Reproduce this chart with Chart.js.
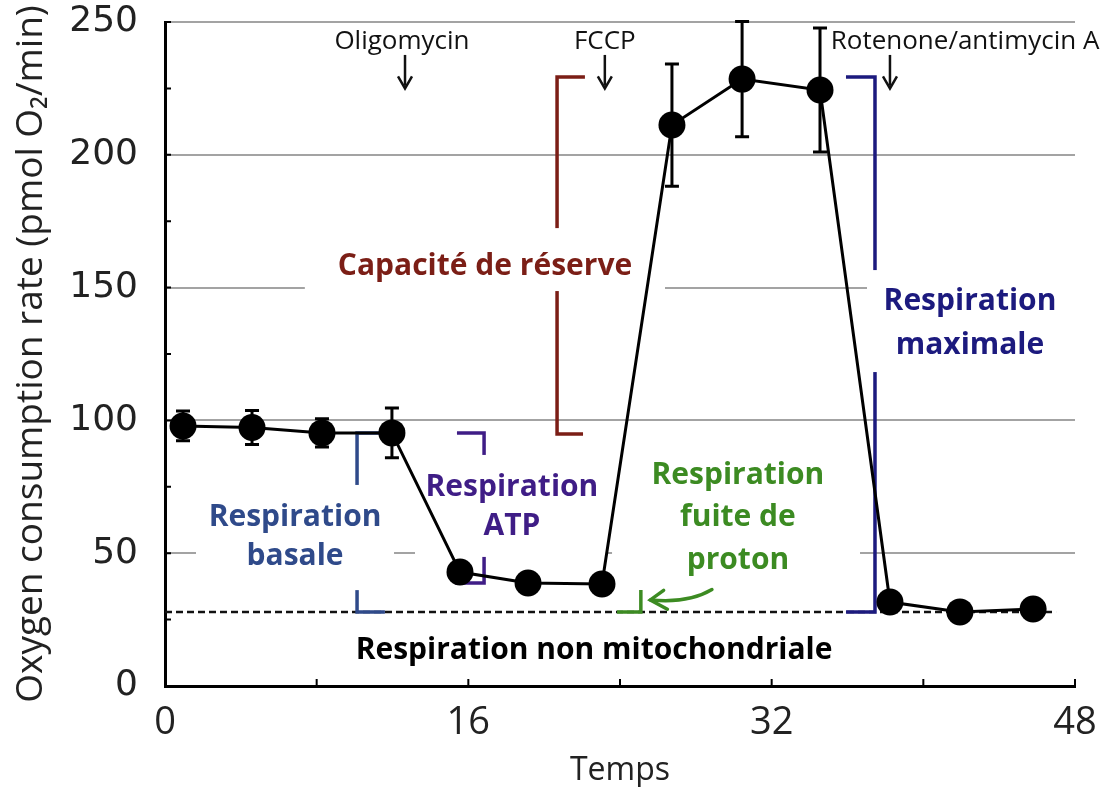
<!DOCTYPE html>
<html><head><meta charset="utf-8">
<script src="https://cdn.jsdelivr.net/npm/chart.js@4.4.1/dist/chart.umd.min.js"></script>
<style>html,body{margin:0;padding:0;background:#fff;}#wrap{width:1107px;height:787px;}</style>
</head><body><div id="wrap"><canvas id="c" width="1107" height="787"></canvas></div>
<script>
// ---- data ----
const times = [0.95, 4.59, 8.28, 11.97, 15.56, 19.15, 23.05, 26.74, 30.44, 34.55, 38.24, 41.93, 45.79];
const ocr   = [97.9, 97.3, 95.3, 95.3, 42.9, 38.8, 38.4, 211.2, 228.5, 224.4, 31.6, 27.9, 29.0];
const sem   = [5.6, 6.4, 5.3, 9.4, 0, 0, 0, 23.0, 21.7, 23.3, 0, 0, 0];
const yTickStep = 50;
const yMinorTicks = [25, 50, 75, 100, 125, 150, 175, 200, 225, 250];
const xTickLabels = [0, 16, 32, 48];
const xMinorTicks = [8, 16, 24, 32, 40, 48];
const nonMitoLevel = 27.9;
const drugNames = ['Oligomycin', 'FCCP', 'Rotenone/antimycin A'];
const drugTimes = [12.66, 23.2, 38.24];
const drugTextCenters = [12.5, 23.2, 42.2];

// ---- annotation layout (data units) ----
const boxes = [
  [7.38, 26.37, 148.7, 172.4],   // capacite
  [1.64, 12.08, 36.1, 75.7],     // basale
  [13.19, 23.3, 48.6, 87.0],     // ATP
  [23.58, 36.66, 36.1, 87.0],    // fuite
  [37.03, 48.0, 118.2, 156.6]    // maximale
];
const brackets = [
  {c:'#7b1e16', p:[[22.15,229.3],[20.68,229.3],[20.68,94.9],[22.05,94.9]]},
  {c:'#2f4a8a', p:[[11.97,95.3],[10.13,95.3],[10.13,27.9],[11.6,27.9]]},
  {c:'#3f1d86', p:[[15.4,95.3],[16.83,95.3],[16.83,38.8],[15.3,38.8]]},
  {c:'#3c8b22', p:[[25.1,36.1],[25.1,27.9],[23.84,27.9]]},
  {c:'#1c1a7e', p:[[35.92,229.3],[37.45,229.3],[37.45,27.9],[35.92,27.9]]}
];
const labels = [
  {c:'#7b1e16', x:16.88, y:[158.1], t:['Capacité de réserve']},
  {c:'#2f4a8a', x:6.86, y:[63.6,48.6], t:['Respiration','basale']},
  {c:'#3f1d86', x:18.3, y:[74.9,59.9], t:['Respiration','ATP']},
  {c:'#3c8b22', x:30.22, y:[79.1,63.3,47.1], t:['Respiration','fuite de','proton']},
  {c:'#1c1a7e', x:42.46, y:[144.6,128.4], t:['Respiration','maximale']},
  {c:'#000000', x:22.63, y:[13.55], t:['Respiration non mitochondriale']}
];

const annot = {
  id:'annot',
  beforeDatasetsDraw(chart){
    const ctx = chart.ctx, xs = chart.scales.x, ys = chart.scales.y;
    const X = v => xs.getPixelForValue(v), Y = v => ys.getPixelForValue(v);
    ctx.save();
    ctx.fillStyle = '#fff';
    boxes.forEach(b => { ctx.fillRect(X(b[0]), Y(b[3]), X(b[1])-X(b[0]), Y(b[2])-Y(b[3])); });
    // dashed non-mito line
    ctx.strokeStyle = '#111'; ctx.lineWidth = 2.5; ctx.setLineDash([7,4]);
    ctx.beginPath(); ctx.moveTo(X(0), Y(nonMitoLevel)); ctx.lineTo(X(47), Y(nonMitoLevel)); ctx.stroke();
    ctx.setLineDash([]);
    // brackets
    ctx.lineWidth = 3.5; ctx.lineJoin = 'miter'; ctx.lineCap = 'butt';
    brackets.forEach(b => {
      ctx.strokeStyle = b.c; ctx.beginPath();
      b.p.forEach((pt,i) => { const px=X(pt[0]), py=Y(pt[1]); i?ctx.lineTo(px,py):ctx.moveTo(px,py); });
      ctx.stroke();
    });
    // re-cover bracket gaps with label boxes
    ctx.fillStyle = '#fff';
    boxes.forEach((b,i) => { if(i!==3) ctx.fillRect(X(b[0]), Y(b[3]), X(b[1])-X(b[0]), Y(b[2])-Y(b[3])); });
    // labels
    ctx.textAlign = 'center'; ctx.textBaseline = 'middle';
    ctx.font = 'bold 30px "Open Sans"';
    labels.forEach(l => { ctx.fillStyle = l.c; l.t.forEach((t,i) => ctx.fillText(t, X(l.x), Y(l.y[i]))); });
    // green curved arrow
    ctx.strokeStyle = '#3c8b22'; ctx.lineWidth = 3.5; ctx.lineCap='round';
    ctx.beginPath(); ctx.moveTo(X(28.85), Y(36.3));
    ctx.quadraticCurveTo(X(27.6), Y(31.0), X(25.6), Y(32.4)); ctx.stroke();
    ctx.beginPath(); ctx.moveTo(X(26.3), Y(36.0)); ctx.lineTo(X(25.6), Y(32.4)); ctx.lineTo(X(26.5), Y(28.9)); ctx.stroke();
    // drug labels + arrows
    ctx.fillStyle = '#111'; ctx.strokeStyle = '#111'; ctx.lineWidth = 2.5; ctx.lineCap='butt';
    ctx.font = '26px "Open Sans"';
    drugNames.forEach((n,i) => {
      ctx.fillText(n, X(drugTextCenters[i]), Y(242.6));
      const ax = X(drugTimes[i]);
      ctx.beginPath(); ctx.moveTo(ax, Y(237.6)); ctx.lineTo(ax, Y(226)); ctx.stroke();
      const ty = Y(225.0);
      ctx.beginPath(); ctx.moveTo(ax-7, ty-12); ctx.lineTo(ax, ty); ctx.lineTo(ax+7, ty-12); ctx.stroke();
    });
    ctx.restore();
  },
  afterDatasetsDraw(chart){
    const ctx = chart.ctx, xs = chart.scales.x, ys = chart.scales.y;
    const X = v => xs.getPixelForValue(v), Y = v => ys.getPixelForValue(v);
    ctx.save();
    ctx.strokeStyle = '#000'; ctx.lineWidth = 3;
    sem.forEach((e,i) => {
      if(!e) return;
      const px = X(times[i]), t = Y(ocr[i]+e), b = Y(ocr[i]-e);
      ctx.beginPath();
      ctx.moveTo(px,t); ctx.lineTo(px,b);
      ctx.moveTo(px-7,t); ctx.lineTo(px+7,t);
      ctx.moveTo(px-7,b); ctx.lineTo(px+7,b);
      ctx.stroke();
    });
    // inward minor ticks
    ctx.lineWidth = 2;
    ctx.beginPath();
    yMinorTicks.forEach(v => { const py=Y(v); ctx.moveTo(xs.left, py); ctx.lineTo(xs.left+6, py); });
    xMinorTicks.forEach(v => { const px=X(v); ctx.moveTo(px, ys.bottom); ctx.lineTo(px, ys.bottom-7); });
    ctx.stroke();
    ctx.restore();
  }
};

new Chart(document.getElementById('c'), {
  type:'line',
  data:{ datasets:[{
    data: times.map((t,i)=>({x:t, y:ocr[i]})),
    borderColor:'#000', backgroundColor:'#000', borderWidth:3,
    pointRadius:13.5, pointHoverRadius:13.5, pointBorderWidth:0, tension:0, clip:false
  }]},
  options:{
    responsive:false, animation:false,
    layout:{padding:{top:22, right:32, left:0, bottom:0}},
    plugins:{legend:{display:false}, tooltip:{enabled:false}},
    scales:{
      x:{type:'linear', min:0, max:48,
        afterFit(s){ s.height = 101; s.paddingLeft = 0; s.paddingRight = 0; },
        afterBuildTicks(s){ s.ticks = xTickLabels.map(v=>({value:v})); },
        grid:{display:false, drawTicks:false},
        border:{display:true, color:'#000', width:3},
        ticks:{font:{family:'"Open Sans"', size:38}, color:'#222', padding:14, maxRotation:0},
        title:{display:true, text:'Temps', font:{family:'"Open Sans"', size:32, lineHeight:1}, color:'#222', padding:{top:0,bottom:0}}
      },
      y:{min:0, max:250,
        afterFit(s){ s.width = 165; s.paddingTop = 0; s.paddingBottom = 0; },
        grid:{color:c => c.tick && c.tick.value===0 ? 'rgba(0,0,0,0)' : '#a3a3a3', lineWidth:2, drawTicks:false},
        border:{display:true, color:'#000', width:3},
        ticks:{stepSize:yTickStep, font:{family:'"DejaVu Sans"', size:36}, color:'#222', padding:27},
        title:{display:true, text:'Oxygen consumption rate (pmol O₂/min)', font:{family:'"Open Sans"', size:37, lineHeight:1.2}, color:'#222', padding:{top:9,bottom:0}}
      }
    }
  },
  plugins:[annot]
});
</script></body></html>
